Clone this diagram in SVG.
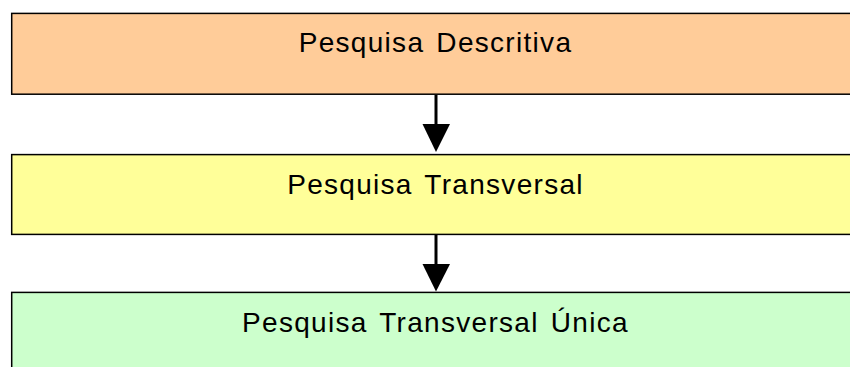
<svg xmlns="http://www.w3.org/2000/svg" width="850" height="367" viewBox="0 0 850 367">
  <style>
    .box { stroke: #000; stroke-width: 1.5; }
    .lbl { font-family: "Liberation Sans", Arial, sans-serif; font-size: 28px; fill: #000; text-anchor: middle; letter-spacing: 1.3px; word-spacing: 3px; }
    .shaft { stroke: #000; stroke-width: 3; }
    .head { fill: #000; }
  </style>
  <rect width="850" height="367" fill="#fff"/>
  <g id="node-descritiva">
    <rect class="box" x="11.7" y="13.4" width="850" height="80.8" fill="#FFCC99"/>
    <text class="lbl" x="435.5" y="52">Pesquisa Descritiva</text>
  </g>
  <g id="node-transversal">
    <rect class="box" x="11.7" y="154.6" width="850" height="79.8" fill="#FFFF99"/>
    <text class="lbl" x="435.5" y="193.5">Pesquisa Transversal</text>
  </g>
  <g id="node-unica">
    <rect class="box" x="11.7" y="292.4" width="850" height="90" fill="#CCFFCC"/>
    <text class="lbl" x="435.5" y="332">Pesquisa Transversal Única</text>
  </g>
  <g id="connectors">
    <line class="shaft" x1="436" y1="95" x2="436" y2="125"/>
    <polygon class="head" points="422.5,124 450,124 436,152"/>
    <line class="shaft" x1="436" y1="235" x2="436" y2="265"/>
    <polygon class="head" points="422.5,264 450,264 436,291.5"/>
  </g>
</svg>
